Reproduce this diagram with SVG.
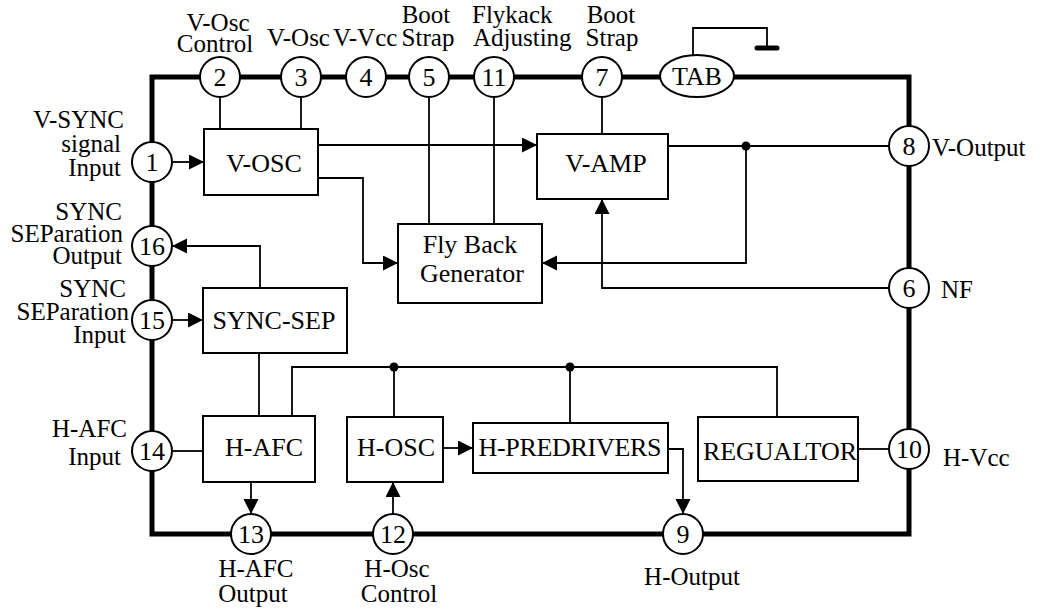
<svg xmlns="http://www.w3.org/2000/svg" width="1039" height="609" viewBox="0 0 1039 609" font-family="'Liberation Serif', 'DejaVu Serif', serif">
<style>
text{font-family:'Liberation Serif','DejaVu Serif',serif;font-size:25px;fill:#000}
.b{font-size:26px}
.m{text-anchor:middle}
.e{text-anchor:end}
.box{fill:#fff;stroke:#000;stroke-width:2}
.pin{fill:#fff;stroke:#000;stroke-width:2}
.w{fill:none;stroke:#000;stroke-width:1.8}
.a{marker-end:url(#ah)}
</style>
<defs>
<marker id="ah" markerUnits="userSpaceOnUse" markerWidth="16" markerHeight="16" refX="15" refY="7.5" orient="auto">
<path d="M0,0 L15,7.5 L0,15 Z" fill="#000"/>
</marker>
</defs>
<rect x="152" y="77" width="757" height="457" fill="none" stroke="#000" stroke-width="5"/>
<g id="ground">
<path class="w" d="M693,56 V28 H767 V47"/>
<line x1="757" y1="48" x2="777" y2="48" stroke="#000" stroke-width="5" stroke-linecap="round"/>
</g>
<g id="connectors">
<path class="w a" d="M172,162 H204"/>
<path class="w" d="M220,97 V129"/>
<path class="w" d="M301,97 V129"/>
<path class="w" d="M429,97 V224"/>
<path class="w" d="M494,97 V224"/>
<path class="w" d="M602,97 V134"/>
<path class="w a" d="M318,145 H537"/>
<path class="w a" d="M318,178 H363 V263 H398"/>
<path class="w" d="M668,146 H889"/>
<path class="w a" d="M746,146 V263 H542"/>
<path class="w a" d="M889,288 H602 V199"/>
<path class="w a" d="M260,288 V246 H172"/>
<path class="w a" d="M172,320 H203"/>
<path class="w" d="M259,353 V416"/>
<path class="w" d="M292,416 V367 H777 V417"/>
<path class="w" d="M394,367 V417"/>
<path class="w" d="M570,367 V423"/>
<path class="w" d="M172,451 H203"/>
<path class="w a" d="M251,482 V514"/>
<path class="w a" d="M393,514 V482"/>
<path class="w a" d="M443,448 H473"/>
<path class="w a" d="M668,449 H683 V514"/>
<path class="w" d="M858,449 H889"/>
<circle cx="746" cy="146" r="4.5"/>
<circle cx="394" cy="367" r="4.5"/>
<circle cx="570" cy="367" r="4.5"/>
</g>
<g id="vosc"><rect class="box" x="204" y="129" width="114" height="66"/><text class="m b" x="264" y="172">V-OSC</text></g>
<g id="vamp"><rect class="box" x="537" y="134" width="131" height="65"/><text class="m b" x="606" y="172">V-AMP</text></g>
<g id="flyback"><rect class="box" x="398" y="224" width="144" height="79"/><text class="m b" x="470" y="253">Fly Back</text><text class="m b" x="472" y="282">Generator</text></g>
<g id="syncsep"><rect class="box" x="203" y="288" width="144" height="65"/><text class="m b" x="274" y="329">SYNC-SEP</text></g>
<g id="hafc"><rect class="box" x="203" y="416" width="112" height="66"/><text class="m b" x="264" y="456">H-AFC</text></g>
<g id="hosc"><rect class="box" x="347" y="417" width="96" height="65"/><text class="m b" x="396" y="456">H-OSC</text></g>
<g id="hpre"><rect class="box" x="473" y="423" width="195" height="50"/><text class="m b" x="570" y="456" textLength="183">H-PREDRIVERS</text></g>
<g id="reg"><rect class="box" x="698" y="417" width="160" height="64"/><text class="m b" x="780" y="460" textLength="154">REGUALTOR</text></g>
<g id="pin1"><circle class="pin" cx="152" cy="162" r="20"/><text class="m b" x="152" y="171">1</text><text class="e" x="124" y="128">V-SYNC</text><text class="e" x="121" y="152">signal</text><text class="e" x="121" y="176">Input</text></g>
<g id="pin2"><circle class="pin" cx="220" cy="77" r="20"/><text class="m b" x="220" y="86">2</text><text class="m" x="218" y="31">V-Osc</text><text class="m" x="215" y="52">Control</text></g>
<g id="pin3"><circle class="pin" cx="301" cy="77" r="20"/><text class="m b" x="301" y="86">3</text><text x="267" y="46">V-Osc</text></g>
<g id="pin4"><circle class="pin" cx="366" cy="77" r="20"/><text class="m b" x="366" y="86">4</text><text x="333" y="46">V-Vcc</text></g>
<g id="pin5"><circle class="pin" cx="429" cy="77" r="20"/><text class="m b" x="429" y="86">5</text><text class="m" x="426" y="23">Boot</text><text class="m" x="428" y="46">Strap</text></g>
<g id="pin11"><circle class="pin" cx="494" cy="77" r="20"/><text class="m b" x="494" y="86">11</text><text x="472" y="23">Flykack</text><text x="473" y="46">Adjusting</text></g>
<g id="pin7"><circle class="pin" cx="602" cy="77" r="20"/><text class="m b" x="602" y="86">7</text><text class="m" x="611" y="23">Boot</text><text class="m" x="612" y="46">Strap</text></g>
<g id="tab"><ellipse class="pin" cx="697" cy="76" rx="37" ry="21"/><text class="m b" x="697" y="85">TAB</text></g>
<g id="pin8"><circle class="pin" cx="909" cy="146" r="20"/><text class="m b" x="909" y="155">8</text><text x="932" y="156">V-Output</text></g>
<g id="pin6"><circle class="pin" cx="909" cy="288" r="20"/><text class="m b" x="909" y="297">6</text><text x="941" y="298">NF</text></g>
<g id="pin10"><circle class="pin" cx="909" cy="449" r="20"/><text class="m b" x="909" y="458">10</text><text x="943" y="466">H-Vcc</text></g>
<g id="pin16"><circle class="pin" cx="152" cy="246" r="20"/><text class="m b" x="152" y="255">16</text><text class="e" x="122" y="220">SYNC</text><text class="e" x="123" y="242">SEParation</text><text class="e" x="122" y="264">Output</text></g>
<g id="pin15"><circle class="pin" cx="152" cy="320" r="20"/><text class="m b" x="152" y="329">15</text><text class="e" x="126" y="297">SYNC</text><text class="e" x="129" y="320">SEParation</text><text class="e" x="126" y="343">Input</text></g>
<g id="pin14"><circle class="pin" cx="152" cy="451" r="20"/><text class="m b" x="152" y="460">14</text><text class="e" x="127" y="437">H-AFC</text><text class="e" x="121" y="465">Input</text></g>
<g id="pin13"><circle class="pin" cx="251" cy="534" r="20"/><text class="m b" x="251" y="543">13</text><text class="m" x="256" y="577">H-AFC</text><text class="m" x="253" y="602">Output</text></g>
<g id="pin12"><circle class="pin" cx="393" cy="534" r="20"/><text class="m b" x="393" y="543">12</text><text class="m" x="397" y="577">H-Osc</text><text class="m" x="399" y="602">Control</text></g>
<g id="pin9"><circle class="pin" cx="683" cy="534" r="20"/><text class="m b" x="683" y="543">9</text><text class="m" x="692" y="585">H-Output</text></g>
</svg>
